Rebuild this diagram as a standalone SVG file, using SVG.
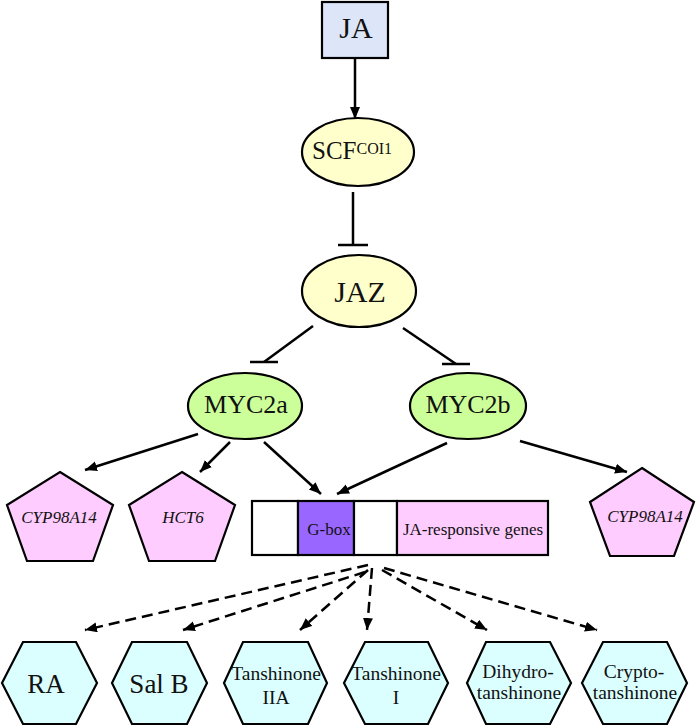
<svg xmlns="http://www.w3.org/2000/svg" width="700" height="727" viewBox="0 0 700 727" font-family="'Liberation Serif', 'DejaVu Serif', serif">
<style>
text{font-family:'Liberation Serif','DejaVu Serif',serif;fill:#111;text-anchor:middle}
.n{stroke:#000;stroke-width:2.2}
.c{stroke:#000;stroke-width:2.5;fill:none}
.d{stroke:#000;stroke-width:2.5;fill:none;stroke-dasharray:11 6}
.it{font-style:italic;font-size:17px}
.hx{fill:#dbffff;stroke:#000;stroke-width:2.2}
.pt{fill:#ffccff;stroke:#000;stroke-width:2.2}
</style>
<defs>
<marker id="ah" markerUnits="userSpaceOnUse" markerWidth="14" markerHeight="12" refX="12" refY="5" orient="auto">
<path d="M0,0 L12,5 L0,10 Z" fill="#000"/>
</marker>
</defs>
<rect width="700" height="727" fill="#fff"/>
<g id="connectors">
<line class="c" x1="355" y1="58" x2="355" y2="119" marker-end="url(#ah)"/>
<line class="c" x1="353" y1="192" x2="353" y2="245"/>
<line class="c" x1="338" y1="245" x2="368" y2="245"/>
<line class="c" x1="313" y1="326" x2="264" y2="362"/>
<line class="c" x1="250" y1="362" x2="278" y2="362"/>
<line class="c" x1="403" y1="328" x2="456" y2="364"/>
<line class="c" x1="442" y1="364" x2="470" y2="364"/>
<line class="c" x1="198" y1="434" x2="85" y2="470" marker-end="url(#ah)"/>
<line class="c" x1="230" y1="442" x2="200" y2="472" marker-end="url(#ah)"/>
<line class="c" x1="264" y1="442" x2="321" y2="494" marker-end="url(#ah)"/>
<line class="c" x1="447" y1="443" x2="337" y2="494" marker-end="url(#ah)"/>
<line class="c" x1="520" y1="441" x2="627" y2="472" marker-end="url(#ah)"/>
<line class="d" x1="368" y1="565" x2="85" y2="630" marker-end="url(#ah)"/>
<line class="d" x1="365" y1="572" x2="183" y2="630" marker-end="url(#ah)"/>
<line class="d" x1="368" y1="570" x2="300" y2="630" marker-end="url(#ah)"/>
<line class="d" x1="372" y1="568" x2="367" y2="630" marker-end="url(#ah)"/>
<line class="d" x1="382" y1="570" x2="487" y2="630" marker-end="url(#ah)"/>
<line class="d" x1="384" y1="568" x2="597" y2="630" marker-end="url(#ah)"/>
</g>
<g id="JA">
<rect class="n" x="322" y="2" width="66" height="56" fill="#dce6f8"/>
<text x="356" y="38" font-size="30">JA</text>
</g>
<g id="SCF">
<ellipse class="n" cx="358" cy="152" rx="56" ry="34" fill="#ffffcc"/>
<text x="312" y="159" font-size="25" text-anchor="start" style="text-anchor:start">SCF<tspan font-size="16" dy="-5">COI1</tspan></text>
</g>
<g id="JAZ">
<ellipse class="n" cx="359" cy="291" rx="57" ry="36" fill="#ffffcc"/>
<text x="360" y="302" font-size="30">JAZ</text>
</g>
<g id="MYC2a">
<ellipse class="n" cx="245" cy="406" rx="57" ry="33" fill="#ccff99"/>
<text x="246" y="413" font-size="26">MYC2a</text>
</g>
<g id="MYC2b">
<ellipse class="n" cx="468" cy="406" rx="58" ry="33" fill="#ccff99"/>
<text x="468" y="413" font-size="26">MYC2b</text>
</g>
<g id="CYP98A14-left">
<polygon class="pt" points="60,472 113,505 93,561 27,561 7,505"/>
<text class="it" x="59" y="523">CYP98A14</text>
</g>
<g id="HCT6">
<polygon class="pt" points="182,472 235,505 215,561 149,561 129,505"/>
<text class="it" x="183" y="523">HCT6</text>
</g>
<g id="CYP98A14-right">
<polygon class="pt" points="642,468 694,502 674,556 610,556 590,502"/>
<text class="it" x="645" y="522">CYP98A14</text>
</g>
<g id="gene">
<rect class="n" x="252" y="501" width="46" height="54" fill="#fff"/>
<rect class="n" x="298" y="501" width="56" height="54" fill="#9966ff"/>
<rect class="n" x="354" y="501" width="43" height="54" fill="#fff"/>
<rect class="n" x="397" y="501" width="151" height="54" fill="#ffccff"/>
<text x="329" y="535" font-size="17">G-box</text>
<text x="473" y="535" font-size="17">JA-responsive genes</text>
</g>
<g id="RA">
<polygon class="hx" points="2,683 23,642 76,642 97,683 76,724 23,724"/>
<text x="46" y="693" font-size="27">RA</text>
</g>
<g id="SalB">
<polygon class="hx" points="112,683 132,642 187,642 207,683 187,724 132,724"/>
<text x="159" y="693" font-size="27">Sal B</text>
</g>
<g id="TanshinoneIIA">
<polygon class="hx" points="224,683 243,642 308,642 327,683 308,724 243,724"/>
<text x="276" y="680" font-size="19.5">Tanshinone</text>
<text x="276" y="704" font-size="19.5">IIA</text>
</g>
<g id="TanshinoneI">
<polygon class="hx" points="344,683 365,642 428,642 448,683 428,724 365,724"/>
<text x="396" y="680" font-size="19.5">Tanshinone</text>
<text x="396" y="704" font-size="19.5">I</text>
</g>
<g id="Dihydrotanshinone">
<polygon class="hx" points="467,683 486,642 550,642 571,683 550,724 486,724"/>
<text x="518" y="678" font-size="19.5">Dihydro-</text>
<text x="519" y="699" font-size="19.5">tanshinone</text>
</g>
<g id="Cryptotanshinone">
<polygon class="hx" points="582,683 603,642 667,642 687,683 667,724 603,724"/>
<text x="634" y="678" font-size="19.5">Crypto-</text>
<text x="635" y="699" font-size="19.5">tanshinone</text>
</g>
</svg>
